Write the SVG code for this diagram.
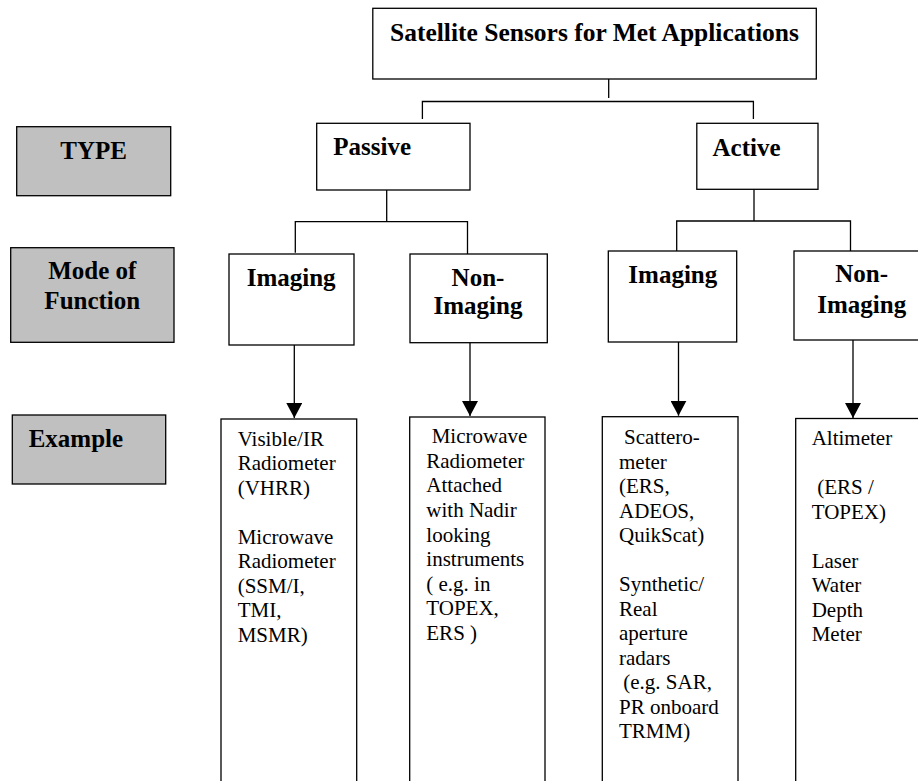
<svg xmlns="http://www.w3.org/2000/svg" width="918" height="781" viewBox="0 0 918 781">
<style>
.box{fill:#fff;stroke:#000;stroke-width:1.3}
.lab{fill:#c0c0c0;stroke:#000;stroke-width:1.3}
.b{font-family:"Liberation Serif","Times New Roman",serif;font-weight:bold;font-size:25px;fill:#000}
.r{font-family:"Liberation Serif","Times New Roman",serif;font-size:21px;fill:#000}
.c{fill:none;stroke:#000;stroke-width:1.3}
</style>
<defs>
<marker id="ah" markerWidth="15" markerHeight="16" refX="15" refY="8" orient="auto" markerUnits="userSpaceOnUse" viewBox="0 0 15 16">
<path d="M0,0 L15,8 L0,16 Z" fill="#000"/>
</marker>
</defs>
<rect width="918" height="781" fill="#fff"/>

<g id="connectors">
<path class="c" d="M608.7,79 V98"/>
<path class="c" d="M422.4,119 V101.5 H753.4 V119"/>
<path class="c" d="M386.7,190 V221.7"/>
<path class="c" d="M295.3,252.7 V221.7 H467.5 V254"/>
<path class="c" d="M754,189.3 V221"/>
<path class="c" d="M676.7,251 V221 H850.5 V251"/>
<path class="c" d="M294.3,345 V418" marker-end="url(#ah)"/>
<path class="c" d="M470,342.7 V416" marker-end="url(#ah)"/>
<path class="c" d="M678.5,342 V415.7" marker-end="url(#ah)"/>
<path class="c" d="M853,340 V418" marker-end="url(#ah)"/>
</g>

<g id="title">
<rect class="box" x="372.8" y="8.3" width="443.5" height="70.7"/>
<text class="b" x="594.5" y="41" text-anchor="middle" style="font-size:25.5px">Satellite Sensors for Met Applications</text>
</g>

<g id="label-type">
<rect class="lab" x="16.7" y="126.7" width="154" height="69"/>
<text class="b" x="93.7" y="159.3" text-anchor="middle">TYPE</text>
</g>
<g id="label-mode">
<rect class="lab" x="10.7" y="247.7" width="163.3" height="94.6"/>
<text class="b" x="92.3" y="279" text-anchor="middle">Mode of</text>
<text class="b" x="92.3" y="309" text-anchor="middle">Function</text>
</g>
<g id="label-example">
<rect class="lab" x="12.3" y="415" width="153.4" height="69"/>
<text class="b" x="28.7" y="446.7">Example</text>
</g>

<g id="passive">
<rect class="box" x="316.7" y="123.3" width="153.3" height="66.7"/>
<text class="b" x="333.3" y="155">Passive</text>
</g>
<g id="active">
<rect class="box" x="696.8" y="123.3" width="121.2" height="66"/>
<text class="b" x="712.5" y="156">Active</text>
</g>

<g id="passive-imaging">
<rect class="box" x="229" y="254" width="125" height="91"/>
<text class="b" x="246.7" y="286">Imaging</text>
</g>
<g id="passive-nonimaging">
<rect class="box" x="410" y="254" width="137.3" height="88.7"/>
<text class="b" x="478" y="285.7" text-anchor="middle">Non-</text>
<text class="b" x="478" y="314" text-anchor="middle">Imaging</text>
</g>
<g id="active-imaging">
<rect class="box" x="608.3" y="251" width="128.4" height="91"/>
<text class="b" x="672.8" y="283.3" text-anchor="middle">Imaging</text>
</g>
<g id="active-nonimaging">
<rect class="box" x="794" y="251" width="140" height="89"/>
<text class="b" x="861.7" y="282" text-anchor="middle">Non-</text>
<text class="b" x="861.7" y="313.3" text-anchor="middle">Imaging</text>
</g>

<g id="example-1">
<rect class="box" x="221" y="419" width="135.7" height="380"/>
<text class="r">
<tspan x="237.7" y="445.5">Visible/IR</tspan>
<tspan x="237.7" y="470.05">Radiometer</tspan>
<tspan x="237.7" y="494.6">(VHRR)</tspan>
<tspan x="237.7" y="543.7">Microwave</tspan>
<tspan x="237.7" y="568.25">Radiometer</tspan>
<tspan x="237.7" y="592.8">(SSM/I,</tspan>
<tspan x="237.7" y="617.35">TMI,</tspan>
<tspan x="237.7" y="641.9">MSMR)</tspan>
</text>
</g>
<g id="example-2">
<rect class="box" x="409.7" y="417" width="135.3" height="380"/>
<text class="r">
<tspan x="431.7" y="443.3">Microwave</tspan>
<tspan x="426.3" y="467.85">Radiometer</tspan>
<tspan x="426.3" y="492.4">Attached</tspan>
<tspan x="426.3" y="516.95">with Nadir</tspan>
<tspan x="426.3" y="541.5">looking</tspan>
<tspan x="426.3" y="566.05">instruments</tspan>
<tspan x="426.3" y="590.6">( e.g. in</tspan>
<tspan x="426.3" y="615.15">TOPEX,</tspan>
<tspan x="426.3" y="639.7">ERS )</tspan>
</text>
</g>
<g id="example-3">
<rect class="box" x="602.3" y="416.7" width="135.7" height="380"/>
<text class="r">
<tspan x="624" y="444">Scattero-</tspan>
<tspan x="619" y="468.5">meter</tspan>
<tspan x="619" y="493">(ERS,</tspan>
<tspan x="619" y="517.5">ADEOS,</tspan>
<tspan x="619" y="542">QuikScat)</tspan>
<tspan x="619" y="591">Synthetic/</tspan>
<tspan x="619" y="615.5">Real</tspan>
<tspan x="619" y="640">aperture</tspan>
<tspan x="619" y="664.5">radars</tspan>
<tspan x="623.3" y="689">(e.g. SAR,</tspan>
<tspan x="619" y="713.5">PR onboard</tspan>
<tspan x="619" y="738">TRMM)</tspan>
</text>
</g>
<g id="example-4">
<rect class="box" x="795.7" y="418.5" width="140" height="380"/>
<text class="r">
<tspan x="811.7" y="445">Altimeter</tspan>
<tspan x="817.3" y="494">(ERS /</tspan>
<tspan x="811.7" y="518.5">TOPEX)</tspan>
<tspan x="811.7" y="567.5">Laser</tspan>
<tspan x="811.7" y="592">Water</tspan>
<tspan x="811.7" y="616.5">Depth</tspan>
<tspan x="811.7" y="641">Meter</tspan>
</text>
</g>
</svg>
